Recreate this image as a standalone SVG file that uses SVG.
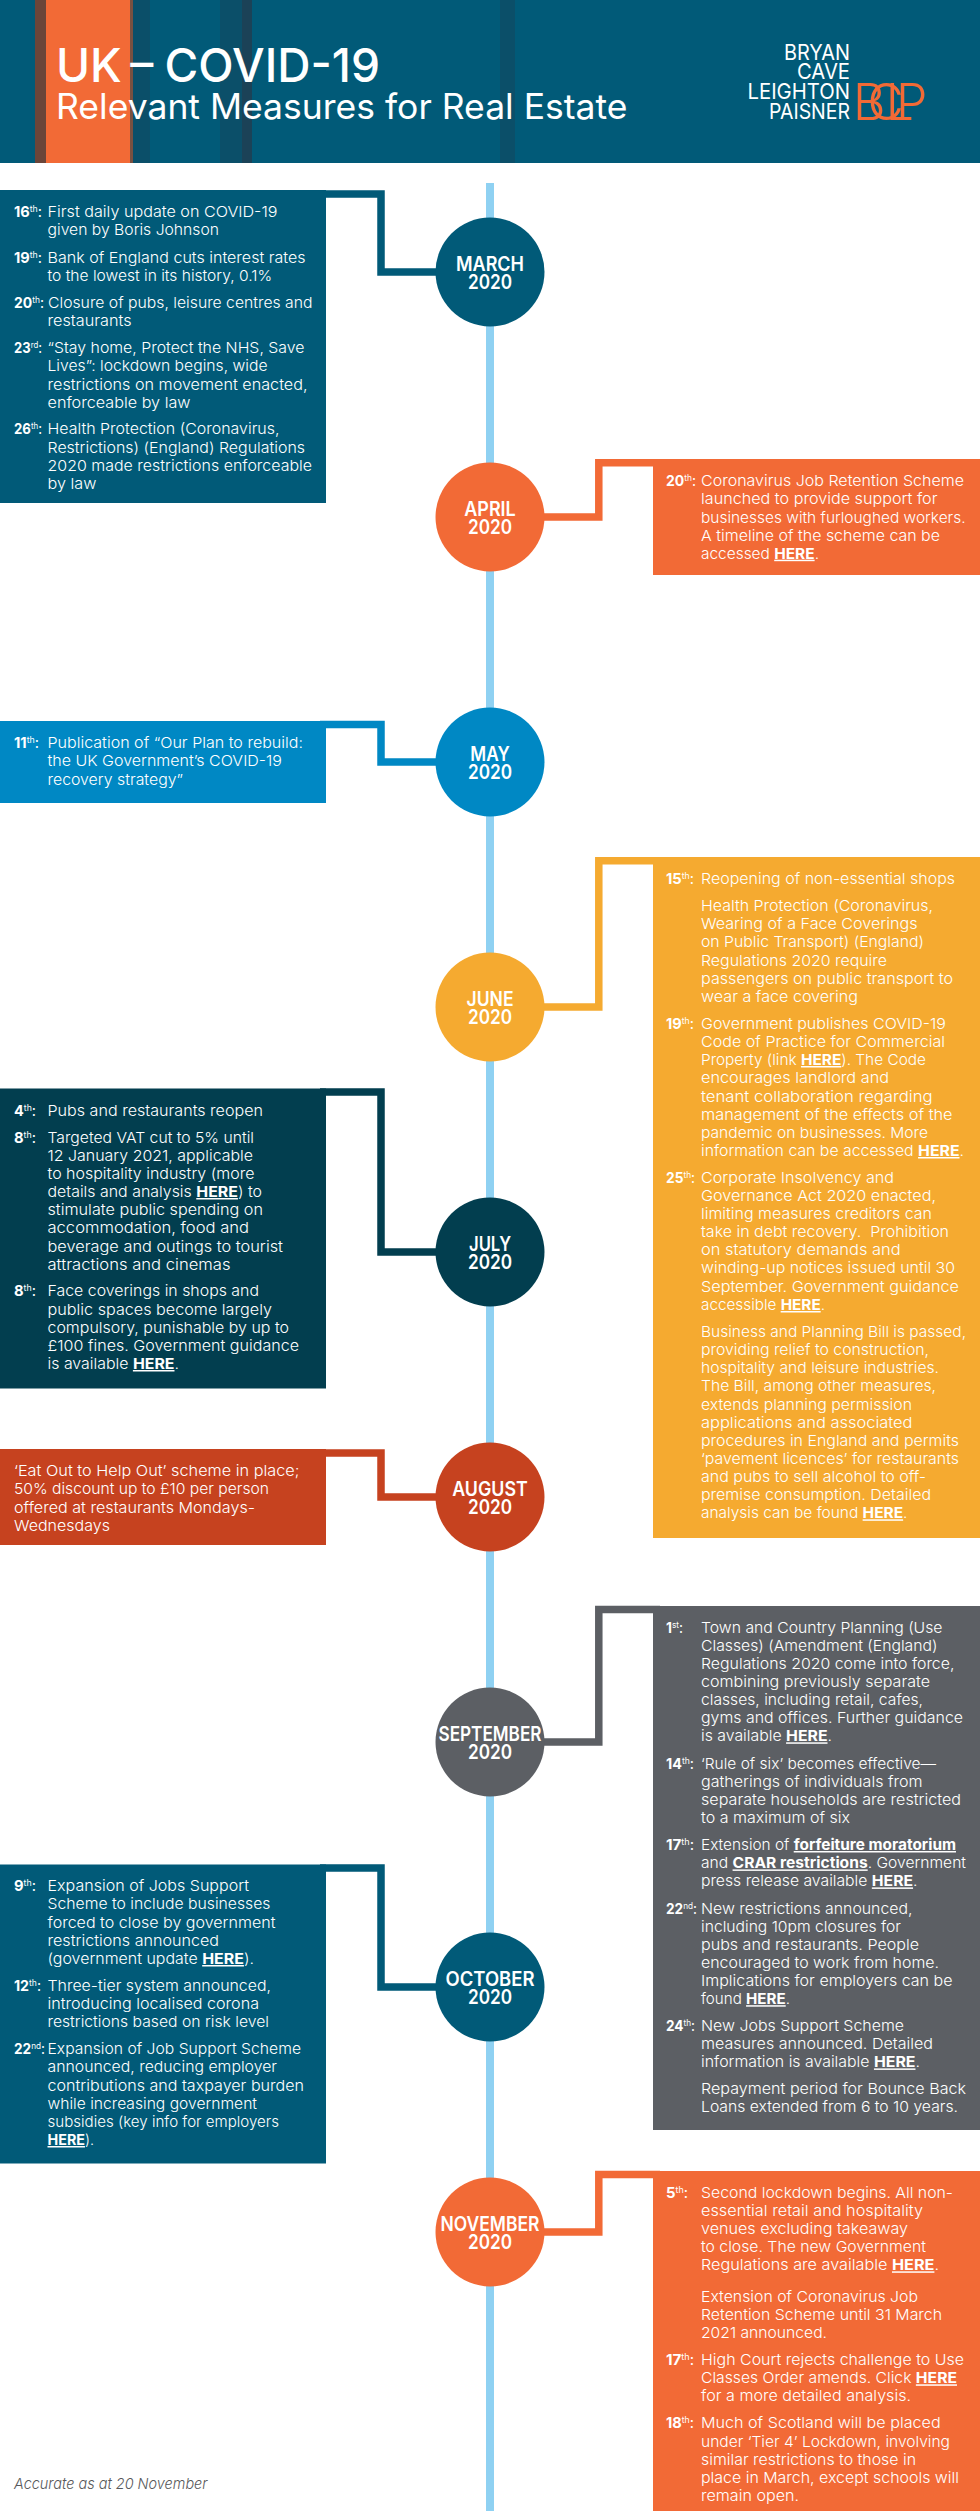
<svg xmlns="http://www.w3.org/2000/svg" width="980" height="2511" viewBox="0 0 980 2511">
<style>
text{font-family:"Inter","Noto Sans","Liberation Sans",sans-serif;fill:#fff}
.l{font-size:15px;font-weight:300}
.d{font-size:15px;font-weight:700}
.d .s{font-size:9px;font-weight:400}
.d .c{font-weight:400}
.h{font-weight:700;text-decoration:underline}
.m{font-size:20px;font-weight:600;text-anchor:middle}
.c1{fill:#015a78}.c2{fill:#f26a36}.c3{fill:#0088c4}.c4{fill:#f5aa30}.c5{fill:#023e4f}.c6{fill:#c6421f}.c7{fill:#5c5f64}
.k{fill:none;stroke-width:7.5}
.logo{font-size:22px;font-weight:400;text-anchor:end}
</style>
<g id="header">
<rect width="980" height="163" class="c1"/>
<rect x="35" width="11" height="163" fill="#6b4539"/>
<rect x="46" width="84" height="163" class="c2"/>
<rect x="130" width="3" height="163" fill="#7a5040"/>
<rect x="133" width="17" height="163" fill="#0b4f69"/>
<rect x="220" width="22" height="163" fill="#0b4f69"/>
<rect x="242" width="10" height="163" fill="#1b4257"/>
<rect x="500" width="15" height="163" fill="#0b4f69"/>
<text x="56" y="82.3" font-size="47" font-weight="500" textLength="324" lengthAdjust="spacingAndGlyphs">UK <tspan dx="-4">–</tspan> <tspan dx="-1">COVID-19</tspan></text>
<text x="56" y="119.3" font-size="35" font-weight="400" textLength="571.5" lengthAdjust="spacingAndGlyphs">Relevant Measures for Real Estate</text>
<text class="logo" x="850" y="60" textLength="66" lengthAdjust="spacingAndGlyphs">BRYAN</text>
<text class="logo" x="850" y="79" textLength="53" lengthAdjust="spacingAndGlyphs">CAVE</text>
<text class="logo" x="850" y="99" textLength="102.5" lengthAdjust="spacingAndGlyphs">LEIGHTON</text>
<text class="logo" x="850" y="118.7" textLength="81" lengthAdjust="spacingAndGlyphs">PAISNER</text>
<text x="853" y="119.5" font-size="50" font-weight="300" letter-spacing="-18" style="fill:#f26a36">BCLP</text>
</g>
<g id="connectors">
<rect x="486" y="183" width="8" height="2328" fill="#8fd1f2"/>
<path class="k" stroke="#015a78" d="M320 194H381V272H436"/>
<path class="k" stroke="#f26a36" d="M660 462.7H598.8V517H544"/>
<path class="k" stroke="#0088c4" d="M320 724.5H381V762H436"/>
<path class="k" stroke="#f5aa30" d="M660 860.8H598.8V1007H544"/>
<path class="k" stroke="#023e4f" d="M320 1092H381V1252H436"/>
<path class="k" stroke="#c6421f" d="M320 1453H381V1497H436"/>
<path class="k" stroke="#5c5f64" d="M660 1609.5H598.8V1742H544"/>
<path class="k" stroke="#015a78" d="M320 1868H381V1987H436"/>
<path class="k" stroke="#f26a36" d="M660 2174.5H598.8V2232H544"/>
</g>
<g id="march">
<circle class="c1" cx="490" cy="272" r="54.5"/><text class="m" x="490" y="271" textLength="68" lengthAdjust="spacingAndGlyphs">MARCH</text><text class="m" x="490" y="289.3" textLength="44" lengthAdjust="spacingAndGlyphs">2020</text>
<rect class="c1" y="190" width="326" height="313"/>
<text class="d" x="14" y="217" textLength="28" lengthAdjust="spacingAndGlyphs">16<tspan class="s" dy="-5">th</tspan><tspan class="c" dy="5">:</tspan></text>
<text class="l" x="47.5" y="217" textLength="230" lengthAdjust="spacingAndGlyphs">First daily update on COVID-19</text>
<text class="l" x="47.5" y="235.3" textLength="171.5" lengthAdjust="spacingAndGlyphs">given by Boris Johnson</text>
<text class="d" x="14" y="262.6" textLength="28" lengthAdjust="spacingAndGlyphs">19<tspan class="s" dy="-5">th</tspan><tspan class="c" dy="5">:</tspan></text>
<text class="l" x="47.5" y="262.6" textLength="258" lengthAdjust="spacingAndGlyphs">Bank of England cuts interest rates</text>
<text class="l" x="47.5" y="280.9" textLength="224.5" lengthAdjust="spacingAndGlyphs">to the lowest in its history, 0.1%</text>
<text class="d" x="14" y="307.7" textLength="30" lengthAdjust="spacingAndGlyphs">20<tspan class="s" dy="-5">th</tspan><tspan class="c" dy="5">:</tspan></text>
<text class="l" x="48" y="307.7" textLength="264.5" lengthAdjust="spacingAndGlyphs">Closure of pubs, leisure centres and</text>
<text class="l" x="47.5" y="326" textLength="84" lengthAdjust="spacingAndGlyphs">restaurants</text>
<text class="d" x="14" y="353" textLength="28" lengthAdjust="spacingAndGlyphs">23<tspan class="s" dy="-5">rd</tspan><tspan class="c" dy="5">:</tspan></text>
<text class="l" x="47.5" y="353" textLength="257" lengthAdjust="spacingAndGlyphs">“Stay home, Protect the NHS, Save</text>
<text class="l" x="47.5" y="371.3" textLength="220" lengthAdjust="spacingAndGlyphs">Lives”: lockdown begins, wide</text>
<text class="l" x="47.5" y="389.5" textLength="260" lengthAdjust="spacingAndGlyphs">restrictions on movement enacted,</text>
<text class="l" x="47.5" y="407.8" textLength="143" lengthAdjust="spacingAndGlyphs">enforceable by law</text>
<text class="d" x="14" y="434.3" textLength="28" lengthAdjust="spacingAndGlyphs">26<tspan class="s" dy="-5">th</tspan><tspan class="c" dy="5">:</tspan></text>
<text class="l" x="47.5" y="434.3" textLength="232" lengthAdjust="spacingAndGlyphs">Health Protection (Coronavirus,</text>
<text class="l" x="47.5" y="452.5" textLength="257.5" lengthAdjust="spacingAndGlyphs">Restrictions) (England) Regulations</text>
<text class="l" x="47.5" y="470.8" textLength="264.5" lengthAdjust="spacingAndGlyphs">2020 made restrictions enforceable</text>
<text class="l" x="47.5" y="489" textLength="49" lengthAdjust="spacingAndGlyphs">by law</text>
</g>
<g id="april">
<circle class="c2" cx="490" cy="517" r="54.5"/><text class="m" x="490" y="516" textLength="51.5" lengthAdjust="spacingAndGlyphs">APRIL</text><text class="m" x="490" y="534.3" textLength="44" lengthAdjust="spacingAndGlyphs">2020</text>
<rect class="c2" x="653" y="459" width="327" height="116"/>
<text class="d" x="666" y="486" textLength="30" lengthAdjust="spacingAndGlyphs">20<tspan class="s" dy="-5">th</tspan><tspan class="c" dy="5">:</tspan></text>
<text class="l" x="701" y="486" textLength="263" lengthAdjust="spacingAndGlyphs">Coronavirus Job Retention Scheme</text>
<text class="l" x="701" y="504" textLength="236.5" lengthAdjust="spacingAndGlyphs">launched to provide support for</text>
<text class="l" x="701" y="522.5" textLength="264.5" lengthAdjust="spacingAndGlyphs">businesses with furloughed workers.</text>
<text class="l" x="701" y="541" textLength="239" lengthAdjust="spacingAndGlyphs">A timeline of the scheme can be</text>
<text class="l" x="701" y="558.7" textLength="118" lengthAdjust="spacingAndGlyphs">accessed <tspan class="h">HERE</tspan>.</text>
</g>
<g id="may">
<circle class="c3" cx="490" cy="762" r="54.5"/><text class="m" x="490" y="761" textLength="39.4" lengthAdjust="spacingAndGlyphs">MAY</text><text class="m" x="490" y="779.3" textLength="44" lengthAdjust="spacingAndGlyphs">2020</text>
<rect class="c3" y="721" width="326" height="82"/>
<text class="d" x="14" y="748" textLength="25" lengthAdjust="spacingAndGlyphs">11<tspan class="s" dy="-5">th</tspan><tspan class="c" dy="5">:</tspan></text>
<text class="l" x="47.5" y="748" textLength="255.5" lengthAdjust="spacingAndGlyphs">Publication of “Our Plan to rebuild:</text>
<text class="l" x="47.5" y="766" textLength="234.5" lengthAdjust="spacingAndGlyphs">the UK Government’s COVID-19</text>
<text class="l" x="47.5" y="784.7" textLength="135.5" lengthAdjust="spacingAndGlyphs">recovery strategy”</text>
</g>
<g id="june">
<circle class="c4" cx="490" cy="1007" r="54.5"/><text class="m" x="490" y="1006" textLength="47" lengthAdjust="spacingAndGlyphs">JUNE</text><text class="m" x="490" y="1024.3" textLength="44" lengthAdjust="spacingAndGlyphs">2020</text>
<rect class="c4" x="653" y="857" width="327" height="681"/>
<text class="d" x="666" y="884.3" textLength="28" lengthAdjust="spacingAndGlyphs">15<tspan class="s" dy="-5">th</tspan><tspan class="c" dy="5">:</tspan></text>
<text class="l" x="701" y="884.3" textLength="254" lengthAdjust="spacingAndGlyphs">Reopening of non-essential shops</text>
<text class="l" x="701" y="910.7" textLength="232" lengthAdjust="spacingAndGlyphs">Health Protection (Coronavirus,</text>
<text class="l" x="701" y="929" textLength="216.5" lengthAdjust="spacingAndGlyphs">Wearing of a Face Coverings</text>
<text class="l" x="701" y="947" textLength="223" lengthAdjust="spacingAndGlyphs">on Public Transport) (England)</text>
<text class="l" x="701" y="965.7" textLength="186" lengthAdjust="spacingAndGlyphs">Regulations 2020 require</text>
<text class="l" x="701" y="983.7" textLength="252" lengthAdjust="spacingAndGlyphs">passengers on public transport to</text>
<text class="l" x="701" y="1001.7" textLength="157" lengthAdjust="spacingAndGlyphs">wear a face covering</text>
<text class="d" x="666" y="1028.5" textLength="28" lengthAdjust="spacingAndGlyphs">19<tspan class="s" dy="-5">th</tspan><tspan class="c" dy="5">:</tspan></text>
<text class="l" x="701" y="1028.5" textLength="245" lengthAdjust="spacingAndGlyphs">Government publishes COVID-19</text>
<text class="l" x="701" y="1046.8" textLength="244" lengthAdjust="spacingAndGlyphs">Code of Practice for Commercial</text>
<text class="l" x="701" y="1065" textLength="225" lengthAdjust="spacingAndGlyphs">Property (link <tspan class="h">HERE</tspan>). The Code</text>
<text class="l" x="701" y="1083" textLength="188" lengthAdjust="spacingAndGlyphs">encourages landlord and</text>
<text class="l" x="701" y="1101.6" textLength="231.5" lengthAdjust="spacingAndGlyphs">tenant collaboration regarding</text>
<text class="l" x="701" y="1119.6" textLength="251.5" lengthAdjust="spacingAndGlyphs">management of the effects of the</text>
<text class="l" x="701" y="1137.5" textLength="227" lengthAdjust="spacingAndGlyphs">pandemic on businesses. More</text>
<text class="l" x="701" y="1156" textLength="263" lengthAdjust="spacingAndGlyphs">information can be accessed <tspan class="h">HERE</tspan>.</text>
<text class="d" x="666" y="1182.7" textLength="29" lengthAdjust="spacingAndGlyphs">25<tspan class="s" dy="-5">th</tspan><tspan class="c" dy="5">:</tspan></text>
<text class="l" x="701" y="1182.7" textLength="193" lengthAdjust="spacingAndGlyphs">Corporate Insolvency and</text>
<text class="l" x="701" y="1201" textLength="235" lengthAdjust="spacingAndGlyphs">Governance Act 2020 enacted,</text>
<text class="l" x="701" y="1219" textLength="231" lengthAdjust="spacingAndGlyphs">limiting measures creditors can</text>
<text class="l" x="701" y="1237.4" textLength="248" lengthAdjust="spacingAndGlyphs" xml:space="preserve">take in debt recovery.  Prohibition</text>
<text class="l" x="701" y="1255.4" textLength="199.6" lengthAdjust="spacingAndGlyphs">on statutory demands and</text>
<text class="l" x="701" y="1273.4" textLength="254" lengthAdjust="spacingAndGlyphs">winding-up notices issued until 30</text>
<text class="l" x="701" y="1291.8" textLength="258" lengthAdjust="spacingAndGlyphs">September. Government guidance</text>
<text class="l" x="701" y="1310" textLength="124" lengthAdjust="spacingAndGlyphs">accessible <tspan class="h">HERE</tspan>.</text>
<text class="l" x="701" y="1336.5" textLength="265" lengthAdjust="spacingAndGlyphs">Business and Planning Bill is passed,</text>
<text class="l" x="701" y="1355" textLength="228" lengthAdjust="spacingAndGlyphs">providing relief to construction,</text>
<text class="l" x="701" y="1373" textLength="238" lengthAdjust="spacingAndGlyphs">hospitality and leisure industries.</text>
<text class="l" x="701" y="1391" textLength="235" lengthAdjust="spacingAndGlyphs">The Bill, among other measures,</text>
<text class="l" x="701" y="1409.6" textLength="211" lengthAdjust="spacingAndGlyphs">extends planning permission</text>
<text class="l" x="701" y="1427.6" textLength="211.5" lengthAdjust="spacingAndGlyphs">applications and associated</text>
<text class="l" x="701" y="1446" textLength="258" lengthAdjust="spacingAndGlyphs">procedures in England and permits</text>
<text class="l" x="701" y="1464" textLength="258" lengthAdjust="spacingAndGlyphs">‘pavement licences’ for restaurants</text>
<text class="l" x="701" y="1482" textLength="225" lengthAdjust="spacingAndGlyphs">and pubs to sell alcohol to off-</text>
<text class="l" x="701" y="1500" textLength="230" lengthAdjust="spacingAndGlyphs">premise consumption. Detailed</text>
<text class="l" x="701" y="1518.3" textLength="206.5" lengthAdjust="spacingAndGlyphs">analysis can be found <tspan class="h">HERE</tspan>.</text>
</g>
<g id="july">
<circle class="c5" cx="490" cy="1252" r="54.5"/><text class="m" x="490" y="1251" textLength="42" lengthAdjust="spacingAndGlyphs">JULY</text><text class="m" x="490" y="1269.3" textLength="44" lengthAdjust="spacingAndGlyphs">2020</text>
<rect class="c5" y="1088.5" width="326" height="300"/>
<text class="d" x="14" y="1115.7" textLength="22" lengthAdjust="spacingAndGlyphs">4<tspan class="s" dy="-5">th</tspan><tspan class="c" dy="5">:</tspan></text>
<text class="l" x="47.5" y="1115.7" textLength="215.5" lengthAdjust="spacingAndGlyphs">Pubs and restaurants reopen</text>
<text class="d" x="14" y="1142.5" textLength="22" lengthAdjust="spacingAndGlyphs">8<tspan class="s" dy="-5">th</tspan><tspan class="c" dy="5">:</tspan></text>
<text class="l" x="47.5" y="1142.5" textLength="206.5" lengthAdjust="spacingAndGlyphs">Targeted VAT cut to 5% until</text>
<text class="l" x="47.5" y="1161" textLength="205.5" lengthAdjust="spacingAndGlyphs">12 January 2021, applicable</text>
<text class="l" x="47.5" y="1179" textLength="207" lengthAdjust="spacingAndGlyphs">to hospitality industry (more</text>
<text class="l" x="47.5" y="1197" textLength="214.5" lengthAdjust="spacingAndGlyphs">details and analysis <tspan class="h">HERE</tspan>) to</text>
<text class="l" x="47.5" y="1215" textLength="215.5" lengthAdjust="spacingAndGlyphs">stimulate public spending on</text>
<text class="l" x="47.5" y="1233" textLength="201.5" lengthAdjust="spacingAndGlyphs">accommodation, food and</text>
<text class="l" x="47.5" y="1251.6" textLength="235.5" lengthAdjust="spacingAndGlyphs">beverage and outings to tourist</text>
<text class="l" x="47.5" y="1269.6" textLength="183" lengthAdjust="spacingAndGlyphs">attractions and cinemas</text>
<text class="d" x="14" y="1296.4" textLength="22" lengthAdjust="spacingAndGlyphs">8<tspan class="s" dy="-5">th</tspan><tspan class="c" dy="5">:</tspan></text>
<text class="l" x="47.5" y="1296.4" textLength="211.5" lengthAdjust="spacingAndGlyphs">Face coverings in shops and</text>
<text class="l" x="47.5" y="1314.7" textLength="224.5" lengthAdjust="spacingAndGlyphs">public spaces become largely</text>
<text class="l" x="47.5" y="1332.7" textLength="241.5" lengthAdjust="spacingAndGlyphs">compulsory, punishable by up to</text>
<text class="l" x="47.5" y="1351" textLength="251.5" lengthAdjust="spacingAndGlyphs">£100 fines. Government guidance</text>
<text class="l" x="47.5" y="1369" textLength="131.5" lengthAdjust="spacingAndGlyphs">is available <tspan class="h">HERE</tspan>.</text>
</g>
<g id="august">
<circle class="c6" cx="490" cy="1497" r="54.5"/><text class="m" x="490" y="1496" textLength="75.5" lengthAdjust="spacingAndGlyphs">AUGUST</text><text class="m" x="490" y="1514.3" textLength="44" lengthAdjust="spacingAndGlyphs">2020</text>
<rect class="c6" y="1449" width="326" height="96"/>
<text class="l" x="14" y="1476" textLength="285.5" lengthAdjust="spacingAndGlyphs">‘Eat Out to Help Out’ scheme in place;</text>
<text class="l" x="14" y="1494" textLength="255" lengthAdjust="spacingAndGlyphs">50% discount up to £10 per person</text>
<text class="l" x="14" y="1512.6" textLength="241" lengthAdjust="spacingAndGlyphs">offered at restaurants Mondays-</text>
<text class="l" x="14" y="1530.6" textLength="96" lengthAdjust="spacingAndGlyphs">Wednesdays</text>
</g>
<g id="september">
<circle class="c7" cx="490" cy="1742" r="54.5"/><text class="m" x="490" y="1741" textLength="103" lengthAdjust="spacingAndGlyphs">SEPTEMBER</text><text class="m" x="490" y="1759.3" textLength="44" lengthAdjust="spacingAndGlyphs">2020</text>
<rect class="c7" x="653" y="1606" width="327" height="524"/>
<text class="d" x="666" y="1632.6" textLength="17" lengthAdjust="spacingAndGlyphs">1<tspan class="s" dy="-5">st</tspan><tspan class="c" dy="5">:</tspan></text>
<text class="l" x="701" y="1632.6" textLength="241.5" lengthAdjust="spacingAndGlyphs">Town and Country Planning (Use</text>
<text class="l" x="701" y="1650.6" textLength="236.5" lengthAdjust="spacingAndGlyphs">Classes) (Amendment (England)</text>
<text class="l" x="701" y="1669" textLength="253.4" lengthAdjust="spacingAndGlyphs">Regulations 2020 come into force,</text>
<text class="l" x="701" y="1687" textLength="229" lengthAdjust="spacingAndGlyphs">combining previously separate</text>
<text class="l" x="701" y="1705.4" textLength="222" lengthAdjust="spacingAndGlyphs">classes, including retail, cafes,</text>
<text class="l" x="701" y="1723.3" textLength="262" lengthAdjust="spacingAndGlyphs">gyms and offices. Further guidance</text>
<text class="l" x="701" y="1741.3" textLength="131" lengthAdjust="spacingAndGlyphs">is available <tspan class="h">HERE</tspan>.</text>
<text class="d" x="666" y="1768.5" textLength="28" lengthAdjust="spacingAndGlyphs">14<tspan class="s" dy="-5">th</tspan><tspan class="c" dy="5">:</tspan></text>
<text class="l" x="701" y="1768.5" textLength="235" lengthAdjust="spacingAndGlyphs">‘Rule of six’ becomes effective—</text>
<text class="l" x="701" y="1786.9" textLength="221.5" lengthAdjust="spacingAndGlyphs">gatherings of individuals from</text>
<text class="l" x="701" y="1805.2" textLength="260" lengthAdjust="spacingAndGlyphs">separate households are restricted</text>
<text class="l" x="701" y="1823.2" textLength="149" lengthAdjust="spacingAndGlyphs">to a maximum of six</text>
<text class="d" x="666" y="1850" textLength="28" lengthAdjust="spacingAndGlyphs">17<tspan class="s" dy="-5">th</tspan><tspan class="c" dy="5">:</tspan></text>
<text class="l" x="701" y="1850" textLength="255" lengthAdjust="spacingAndGlyphs">Extension of <tspan class="h">forfeiture moratorium</tspan></text>
<text class="l" x="701" y="1868.4" textLength="265" lengthAdjust="spacingAndGlyphs">and <tspan class="h">CRAR restrictions</tspan>. Government</text>
<text class="l" x="701" y="1886.4" textLength="216.5" lengthAdjust="spacingAndGlyphs">press release available <tspan class="h">HERE</tspan>.</text>
<text class="d" x="666" y="1913.5" textLength="31" lengthAdjust="spacingAndGlyphs">22<tspan class="s" dy="-5">nd</tspan><tspan class="c" dy="5">:</tspan></text>
<text class="l" x="701" y="1913.5" textLength="211.5" lengthAdjust="spacingAndGlyphs">New restrictions announced,</text>
<text class="l" x="701" y="1931.9" textLength="200" lengthAdjust="spacingAndGlyphs">including 10pm closures for</text>
<text class="l" x="701" y="1950" textLength="218" lengthAdjust="spacingAndGlyphs">pubs and restaurants. People</text>
<text class="l" x="701" y="1968" textLength="238" lengthAdjust="spacingAndGlyphs">encouraged to work from home.</text>
<text class="l" x="701" y="1985.9" textLength="251.5" lengthAdjust="spacingAndGlyphs">Implications for employers can be</text>
<text class="l" x="701" y="2004.2" textLength="89" lengthAdjust="spacingAndGlyphs">found <tspan class="h">HERE</tspan>.</text>
<text class="d" x="666" y="2031" textLength="29" lengthAdjust="spacingAndGlyphs">24<tspan class="s" dy="-5">th</tspan><tspan class="c" dy="5">:</tspan></text>
<text class="l" x="701" y="2031" textLength="203" lengthAdjust="spacingAndGlyphs">New Jobs Support Scheme</text>
<text class="l" x="701" y="2049.4" textLength="232" lengthAdjust="spacingAndGlyphs">measures announced. Detailed</text>
<text class="l" x="701" y="2067.4" textLength="219" lengthAdjust="spacingAndGlyphs">information is available <tspan class="h">HERE</tspan>.</text>
<text class="l" x="701" y="2094.2" textLength="265" lengthAdjust="spacingAndGlyphs">Repayment period for Bounce Back</text>
<text class="l" x="701" y="2112.2" textLength="257" lengthAdjust="spacingAndGlyphs">Loans extended from 6 to 10 years.</text>
</g>
<g id="october">
<circle class="c1" cx="490" cy="1987" r="54.5"/><text class="m" x="490" y="1986" textLength="89" lengthAdjust="spacingAndGlyphs">OCTOBER</text><text class="m" x="490" y="2004.3" textLength="44" lengthAdjust="spacingAndGlyphs">2020</text>
<rect class="c1" y="1864.5" width="326" height="299"/>
<text class="d" x="14" y="1891.3" textLength="22" lengthAdjust="spacingAndGlyphs">9<tspan class="s" dy="-5">th</tspan><tspan class="c" dy="5">:</tspan></text>
<text class="l" x="47.5" y="1891.3" textLength="201.5" lengthAdjust="spacingAndGlyphs">Expansion of Jobs Support</text>
<text class="l" x="47.5" y="1909.3" textLength="223" lengthAdjust="spacingAndGlyphs">Scheme to include businesses</text>
<text class="l" x="47.5" y="1927.7" textLength="228" lengthAdjust="spacingAndGlyphs">forced to close by government</text>
<text class="l" x="47.5" y="1945.7" textLength="171.5" lengthAdjust="spacingAndGlyphs">restrictions announced</text>
<text class="l" x="47.5" y="1964" textLength="206.5" lengthAdjust="spacingAndGlyphs">(government update <tspan class="h">HERE</tspan>).</text>
<text class="d" x="14" y="1990.8" textLength="27" lengthAdjust="spacingAndGlyphs">12<tspan class="s" dy="-5">th</tspan><tspan class="c" dy="5">:</tspan></text>
<text class="l" x="47.5" y="1990.8" textLength="223.5" lengthAdjust="spacingAndGlyphs">Three-tier system announced,</text>
<text class="l" x="47.5" y="2009.2" textLength="211.5" lengthAdjust="spacingAndGlyphs">introducing localised corona</text>
<text class="l" x="47.5" y="2027.2" textLength="221.5" lengthAdjust="spacingAndGlyphs">restrictions based on risk level</text>
<text class="d" x="14" y="2054.4" textLength="31" lengthAdjust="spacingAndGlyphs">22<tspan class="s" dy="-5">nd</tspan><tspan class="c" dy="5">:</tspan></text>
<text class="l" x="47.5" y="2054.4" textLength="253.5" lengthAdjust="spacingAndGlyphs">Expansion of Job Support Scheme</text>
<text class="l" x="47.5" y="2072.4" textLength="229.5" lengthAdjust="spacingAndGlyphs">announced, reducing employer</text>
<text class="l" x="47.5" y="2090.7" textLength="256.5" lengthAdjust="spacingAndGlyphs">contributions and taxpayer burden</text>
<text class="l" x="47.5" y="2108.7" textLength="209.5" lengthAdjust="spacingAndGlyphs">while increasing government</text>
<text class="l" x="47.5" y="2126.7" textLength="231.5" lengthAdjust="spacingAndGlyphs">subsidies (key info for employers</text>
<text class="l" x="47.5" y="2145" textLength="46.5" lengthAdjust="spacingAndGlyphs"><tspan class="h">HERE</tspan>).</text>
</g>
<g id="november">
<circle class="c2" cx="490" cy="2232" r="54.5"/><text class="m" x="490" y="2231" textLength="99" lengthAdjust="spacingAndGlyphs">NOVEMBER</text><text class="m" x="490" y="2249.3" textLength="44" lengthAdjust="spacingAndGlyphs">2020</text>
<rect class="c2" x="653" y="2171" width="327" height="340"/>
<text class="d" x="666" y="2197.7" textLength="22" lengthAdjust="spacingAndGlyphs">5<tspan class="s" dy="-5">th</tspan><tspan class="c" dy="5">:</tspan></text>
<text class="l" x="701" y="2197.7" textLength="252" lengthAdjust="spacingAndGlyphs">Second lockdown begins. All non-</text>
<text class="l" x="701" y="2216" textLength="222" lengthAdjust="spacingAndGlyphs">essential retail and hospitality</text>
<text class="l" x="701" y="2234.3" textLength="207" lengthAdjust="spacingAndGlyphs">venues excluding takeaway</text>
<text class="l" x="701" y="2252" textLength="225" lengthAdjust="spacingAndGlyphs">to close. The new Government</text>
<text class="l" x="701" y="2270.3" textLength="238" lengthAdjust="spacingAndGlyphs">Regulations are available <tspan class="h">HERE</tspan>.</text>
<text class="l" x="701" y="2301.7" textLength="217" lengthAdjust="spacingAndGlyphs">Extension of Coronavirus Job</text>
<text class="l" x="701" y="2320" textLength="241" lengthAdjust="spacingAndGlyphs">Retention Scheme until 31 March</text>
<text class="l" x="701" y="2338" textLength="126" lengthAdjust="spacingAndGlyphs">2021 announced.</text>
<text class="d" x="666" y="2365.3" textLength="28" lengthAdjust="spacingAndGlyphs">17<tspan class="s" dy="-5">th</tspan><tspan class="c" dy="5">:</tspan></text>
<text class="l" x="701" y="2365.3" textLength="263" lengthAdjust="spacingAndGlyphs">High Court rejects challenge to Use</text>
<text class="l" x="701" y="2383.3" textLength="256" lengthAdjust="spacingAndGlyphs">Classes Order amends. Click <tspan class="h">HERE</tspan></text>
<text class="l" x="701" y="2401.3" textLength="210" lengthAdjust="spacingAndGlyphs">for a more detailed analysis.</text>
<text class="d" x="666" y="2428.3" textLength="28" lengthAdjust="spacingAndGlyphs">18<tspan class="s" dy="-5">th</tspan><tspan class="c" dy="5">:</tspan></text>
<text class="l" x="701" y="2428.3" textLength="239.6" lengthAdjust="spacingAndGlyphs">Much of Scotland will be placed</text>
<text class="l" x="701" y="2446.7" textLength="249" lengthAdjust="spacingAndGlyphs">under ‘Tier 4’ Lockdown, involving</text>
<text class="l" x="701" y="2465" textLength="215" lengthAdjust="spacingAndGlyphs">similar restrictions to those in</text>
<text class="l" x="701" y="2483" textLength="258" lengthAdjust="spacingAndGlyphs">place in March, except schools will</text>
<text class="l" x="701" y="2501.3" textLength="98" lengthAdjust="spacingAndGlyphs">remain open.</text>
</g>
<g id="footnote"><text x="14" y="2489" font-size="15" font-weight="300" font-style="italic" style="fill:#58595b" textLength="193.5" lengthAdjust="spacingAndGlyphs">Accurate as at 20 November</text></g>
</svg>
